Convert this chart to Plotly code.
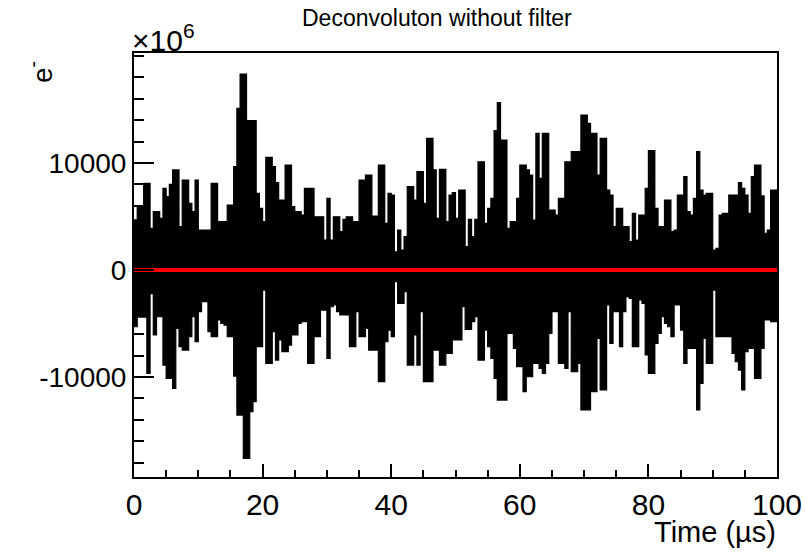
import plotly.graph_objects as go

# Upper (positive) envelope, one value per 0.5 us, t = 0 .. 99.5 us
upper = [
    4700, 5900, 6000, 8100, 8100, 3900, 5450, 5450, 4830, 7630,
    6850, 8000, 9350, 9350, 4050, 8410, 8410, 6230, 5450, 8410,
    3740, 3740, 3740, 3740, 8100, 8100, 4520, 4520, 4520, 6070,
    6070, 9660, 15110, 18320, 18320, 13960, 13960, 13960, 7160, 5760,
    4520, 10530, 10530, 9660, 8160, 6540, 6540, 9810, 9810, 5920,
    5450, 5450, 5140, 7630, 7630, 7630, 4980, 4980, 4980, 2800,
    6700, 2800, 4980, 4980, 3580, 4730, 4980, 4980, 4520, 4520,
    8410, 8410, 8880, 8880, 5050, 5050, 9810, 9810, 4360, 7160,
    7010, 1710, 3740, 1870, 3115, 7790, 7790, 6540, 9190, 9190,
    6230, 12300, 12300, 9350, 4830, 9410, 9410, 4520, 7010, 7230,
    4830, 7480, 7480, 2180, 4730, 3115, 4730, 10120, 10120, 4360,
    5760, 6700, 13020, 15640, 12150, 12150, 3890, 4520, 4520, 6700,
    9810, 9810, 9350, 8880, 4670, 12770, 8570, 12770, 12770, 5610,
    5610, 5140, 6700, 6700, 10120, 10120, 11060, 11060, 11060, 14480,
    14480, 13710, 12770, 12770, 8880, 12300, 12300, 7480, 7010, 4050,
    5760, 5760, 4050, 4050, 2650, 5300, 2800, 5140, 5140, 7630,
    11150, 11150, 5760, 4050, 4050, 6540, 6540, 3580, 3740, 7010,
    7010, 8720, 5450, 5140, 6700, 11060, 7480, 7010, 7160, 7160,
    1870, 2020, 5140, 5300, 5300, 7010, 7010, 7010, 8160, 7630,
    7010, 5300, 8720, 9810, 9810, 6920, 3430, 3740, 7480, 7480,
]

# Lower (negative) envelope magnitudes, one value per 0.5 us
lower = [
    5300, 4400, 4400, 4400, 9660, 2200, 6070, 4360, 4360, 8880,
    10120, 10120, 11060, 5450, 7160, 7480, 7480, 6230, 4360, 6700,
    3890, 2960, 2960, 5760, 6230, 6230, 4670, 4980, 5140, 6230,
    6230, 9910, 13550, 13550, 17600, 17600, 13240, 12300, 7160, 7160,
    1870, 8720, 8720, 5760, 8410, 6540, 7630, 7630, 7010, 6070,
    6070, 4980, 4830, 4830, 8720, 8720, 6230, 6230, 3740, 3740,
    8250, 3430, 3270, 3890, 4200, 4200, 4200, 7160, 7160, 3890,
    6230, 6230, 5450, 7480, 7480, 7480, 10430, 10430, 6700, 5610,
    6230, 1090, 3115, 3115, 2020, 8880, 8880, 6070, 8880, 3890,
    10430, 10430, 10430, 7480, 7480, 8880, 8880, 7790, 7790, 6540,
    6540, 6540, 3430, 5540, 5540, 4830, 4360, 8410, 8410, 5610,
    7160, 8250, 10120, 12150, 12150, 12150, 5920, 5920, 7320, 9030,
    9030, 11370, 9970, 9970, 8720, 8720, 9190, 9660, 8720, 5920,
    3890, 3890, 8720, 8720, 9190, 3890, 9500, 9500, 8720, 13080,
    13080, 13080, 11370, 11370, 6390, 11210, 11210, 3270, 6850, 3890,
    3890, 7160, 3890, 2490, 2650, 7160, 7160, 2800, 3115, 7940,
    9660, 9660, 6850, 5920, 4360, 4980, 5300, 6230, 3270, 3270,
    5610, 8720, 7320, 7320, 7320, 13080, 10590, 6390, 8720, 8720,
    1870, 6230, 6230, 6230, 6230, 6230, 7790, 8570, 9350, 11210,
    7630, 7320, 7320, 10120, 10120, 7320, 4670, 4670, 4830, 4830,
]

fit_time = [0, 100]
fit_values = [0, 0]

assert len(upper) == len(lower)

BIN = 0.5  # envelope bin width (us)
n = len(upper)

# Closed band: upper envelope as steps left->right, lower envelope back right->left
band_x, band_y = [], []
for k in range(n):
    band_x += [k * BIN, (k + 1) * BIN]
    band_y += [upper[k], upper[k]]
for k in reversed(range(n)):
    band_x += [(k + 1) * BIN, k * BIN]
    band_y += [-lower[k], -lower[k]]
band_x.append(band_x[0])
band_y.append(band_y[0])

FONT = "Liberation Sans, Arial, Helvetica, sans-serif"

fig = go.Figure()
fig.add_trace(go.Scatter(
    x=band_x, y=band_y, mode="lines",
    line=dict(color="black", width=1.2),
    fill="toself", fillcolor="black",
    hoverinfo="skip", showlegend=False,
))
fig.add_trace(go.Scatter(
    x=fit_time, y=fit_values, mode="lines",
    line=dict(color="#ff0000", width=4),
    hoverinfo="skip", showlegend=False,
))

fig.update_layout(
    width=805, height=552,
    margin=dict(l=134, r=28, t=53, b=75),
    paper_bgcolor="white", plot_bgcolor="white",
    font=dict(family=FONT, color="black", size=26),
    showlegend=False,
)
fig.update_xaxes(
    range=[0, 100], showgrid=False, zeroline=False, automargin=False,
    showline=True, linecolor="black", linewidth=2, mirror=True,
    ticks="inside", ticklen=13, tickwidth=1.5, tickcolor="black",
    dtick=20, tick0=0,
    minor=dict(dtick=5, ticks="inside", ticklen=7, tickwidth=1.5, tickcolor="black"),
    tickfont=dict(size=30, family=FONT),
)
fig.update_yaxes(
    range=[-19340, 20280], showgrid=False, zeroline=False, automargin=False,
    showline=True, linecolor="black", linewidth=2, mirror=True,
    ticks="inside", ticklen=20, tickwidth=1.5, tickcolor="black",
    tickvals=[-10000, 0, 10000], ticktext=["-10000", "0", "10000"],
    minor=dict(dtick=2000, ticks="inside", ticklen=10, tickwidth=1.5, tickcolor="black"),
    tickfont=dict(size=28, family=FONT),
)

fig.add_annotation(
    text="Deconvoluton without filter", xref="paper", yref="paper",
    x=(437 - 134) / 643, y=(477 - 18) / 424, xanchor="center", yanchor="middle",
    showarrow=False, font=dict(size=23, family=FONT),
)
fig.add_annotation(
    text="×10<sup>6</sup>", xref="paper", yref="paper",
    x=(130 - 134) / 643, y=(477 - 38) / 424, xanchor="left", yanchor="middle",
    showarrow=False, font=dict(size=30, family=FONT),
)
fig.add_annotation(
    text="Time (µs)", xref="paper", yref="paper",
    x=(778 - 134) / 643, y=(477 - 532) / 424, xanchor="right", yanchor="middle",
    showarrow=False, font=dict(size=29, family=FONT),
)
fig.add_annotation(
    text="e<sup>-</sup>", xref="paper", yref="paper",
    x=(40 - 134) / 643, y=(477 - 72) / 424, xanchor="center", yanchor="middle",
    textangle=-90, showarrow=False, font=dict(size=28, family=FONT),
)

fig.write_html("out.html")
